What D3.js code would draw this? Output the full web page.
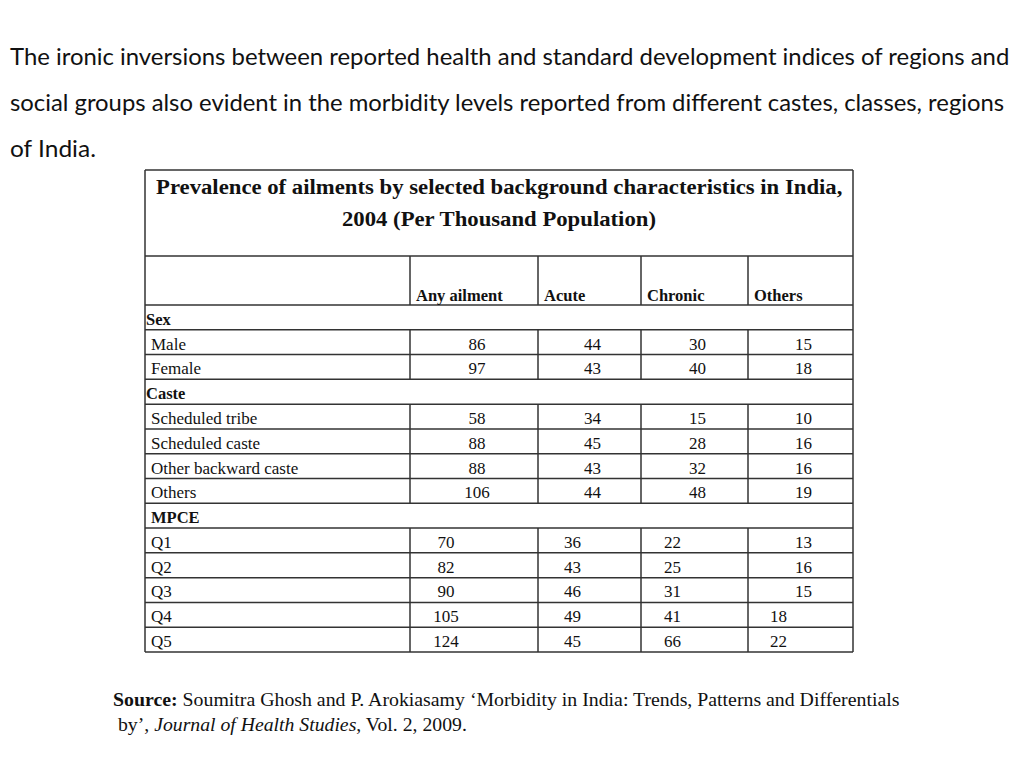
<!DOCTYPE html>
<html><head><meta charset="utf-8">
<script src="https://cdn.jsdelivr.net/npm/d3@7"></script>
<style>
html,body{margin:0;padding:0;background:#fff;}
svg{display:block;}
</style></head>
<body>
<svg id="c" width="1024" height="768"></svg>
<script>
// ---------- DATA ----------
const introLines = [
  "The ironic inversions between reported health and standard development indices of regions and",
  "social groups also evident in the morbidity levels reported from different castes, classes, regions",
  "of India."
];
const titleLines = [
  "Prevalence of ailments by selected background characteristics in India,",
  "2004 (Per Thousand Population)"
];
const columns = ["Any ailment", "Acute", "Chronic", "Others"];
const groupNames = ["Sex", "Caste", "MPCE"];
const rowGroups = ["Sex","Sex","Caste","Caste","Caste","Caste","MPCE","MPCE","MPCE","MPCE","MPCE"];
const rowLabels = ["Male","Female","Scheduled tribe","Scheduled caste","Other backward caste","Others","Q1","Q2","Q3","Q4","Q5"];
const anyAilment = [86, 97, 58, 88, 88, 106, 70, 82, 90, 105, 124];
const acute      = [44, 43, 34, 45, 43, 44, 36, 43, 46, 49, 45];
const chronic    = [30, 40, 15, 28, 32, 48, 22, 25, 31, 41, 66];
const others     = [15, 18, 10, 16, 16, 19, 13, 16, 15, 18, 22];
const sourceBold = "Source:";
const sourceText1 = " Soumitra Ghosh and P. Arokiasamy \u2018Morbidity in India: Trends, Patterns and Differentials";
const sourceLine2a = "by\u2019, ";
const sourceLine2b = "Journal of Health Studies";
const sourceLine2c = ", Vol. 2, 2009.";

// ---------- LAYOUT ----------
const svg = d3.select("#c");
svg.append("rect").attr("width",1024).attr("height",768).attr("fill","#fff");
const LINE = "#333";
const serif = "'Liberation Serif','Times New Roman',serif";

function fitWidth(sel, target){
  const w = sel.node().getComputedTextLength();
  const x = +sel.attr("x"), y = +sel.attr("y");
  const anchor = sel.attr("text-anchor");
  sel.attr("x",0).attr("y",0)
     .attr("transform",`translate(${x},${y}) scale(${target / w},1)`);
}

// Intro paragraph
const introWidths = [1000, 995, 86];
introLines.forEach((t,i)=>{
  const s = svg.append("text").attr("x",10).attr("y",65 + i*46)
    .attr("font-family","Lato,'Open Sans',sans-serif").attr("font-size",23.5)
    .attr("fill","#111").text(t);
  fitWidth(s, introWidths[i]);
});

// Table build: rows list (group header rows + data rows)
const rows = [];
groupNames.forEach(g=>{
  rows.push({type:"group", label:g});
  rowLabels.forEach((l,i)=>{ if(rowGroups[i]===g) rows.push({type:"data", label:l, idx:i, group:g}); });
});

const tableLeft = 145, tableRight = 853, tableTop = 170, titleBottom = 256, headBottom = 305, tableBottom = 652;
const colEdges = [tableLeft, 410, 538, 641, 748, tableRight];
const y = d3.scaleBand().domain(d3.range(rows.length)).range([headBottom, tableBottom]).padding(0);
const colX = d3.scaleOrdinal().domain(columns).range(colEdges.slice(1,5));
const series = [anyAilment, acute, chronic, others];

// value text x positions (per group style, mimicking original spacing)
const centerShift = 3;
const mpceShift = {"Any ailment":-28, "Acute":-17, "Chronic":-22, "Others":3};
const mpceShiftLate = {"Others":-22}; // Q4,Q5 others column

const g = svg.append("g");

// Horizontal lines
const hLines = [tableTop, titleBottom, headBottom].concat(rows.map((r,i)=>y(i)+y.bandwidth()));
g.selectAll("line.h").data(hLines).join("line").attr("class","h")
  .attr("x1",tableLeft).attr("x2",tableRight).attr("y1",d=>d).attr("y2",d=>d)
  .attr("stroke",LINE).attr("stroke-width",1.5);
// Outer verticals
[tableLeft, tableRight].forEach(x=>{
  g.append("line").attr("x1",x).attr("x2",x).attr("y1",tableTop).attr("y2",tableBottom)
   .attr("stroke",LINE).attr("stroke-width",1.5);
});
// Header dividers
columns.forEach(c=>{
  g.append("line").attr("x1",colX(c)).attr("x2",colX(c)).attr("y1",titleBottom).attr("y2",headBottom)
   .attr("stroke",LINE).attr("stroke-width",1.5);
});
// Data row dividers
rows.forEach((r,i)=>{
  if(r.type!=="data") return;
  columns.forEach(c=>{
    g.append("line").attr("x1",colX(c)).attr("x2",colX(c)).attr("y1",y(i)).attr("y2",y(i)+y.bandwidth())
     .attr("stroke",LINE).attr("stroke-width",1.5);
  });
});

// Title
const titleX = [156, 342], titleW = [687, 314];
titleLines.forEach((t,i)=>{
  const s = svg.append("text").attr("x",titleX[i]).attr("y",194 + i*32)
    .attr("font-family",serif).attr("font-weight","bold").attr("font-size",21.5)
    .attr("fill","#111").text(t);
  fitWidth(s, titleW[i]);
});

// Header labels
columns.forEach(c=>{
  svg.append("text").attr("x",colX(c)+6).attr("y",301)
    .attr("font-family",serif).attr("font-weight","bold").attr("font-size",16.5)
    .attr("fill","#111").text(c);
});

// Rows
rows.forEach((r,i)=>{
  const base = y(i) + y.bandwidth() - 5;
  if(r.type==="group"){
    svg.append("text").attr("x", r.label==="MPCE" ? 151 : 146).attr("y",base)
      .attr("font-family",serif).attr("font-weight","bold").attr("font-size",16.5)
      .attr("fill","#111").text(r.label);
  } else {
    svg.append("text").attr("x",151).attr("y",base)
      .attr("font-family",serif).attr("font-size",17).attr("fill","#111").text(r.label);
    columns.forEach((c,ci)=>{
      const left = colEdges[ci+1], right = colEdges[ci+2];
      let shift = centerShift;
      if(r.group==="MPCE"){
        shift = mpceShift[c];
        if((r.label==="Q4"||r.label==="Q5") && mpceShiftLate[c]!==undefined) shift = mpceShiftLate[c];
      }
      svg.append("text").attr("x",(left+right)/2 + shift).attr("y",base).attr("text-anchor","middle")
        .attr("font-family",serif).attr("font-size",17).attr("fill","#111")
        .text(series[ci][r.idx]);
    });
  }
});

// Source
const s1 = svg.append("text").attr("x",113).attr("y",706)
  .attr("font-family",serif).attr("font-size",19).attr("fill","#111");
s1.append("tspan").attr("font-weight","bold").text(sourceBold);
s1.append("tspan").text(sourceText1);
fitWidth(s1, 787);
const s2 = svg.append("text").attr("x",118).attr("y",731)
  .attr("font-family",serif).attr("font-size",19).attr("fill","#111");
s2.append("tspan").text(sourceLine2a);
s2.append("tspan").attr("font-style","italic").text(sourceLine2b);
s2.append("tspan").text(sourceLine2c);
fitWidth(s2, 349);
</script>
</body></html>
